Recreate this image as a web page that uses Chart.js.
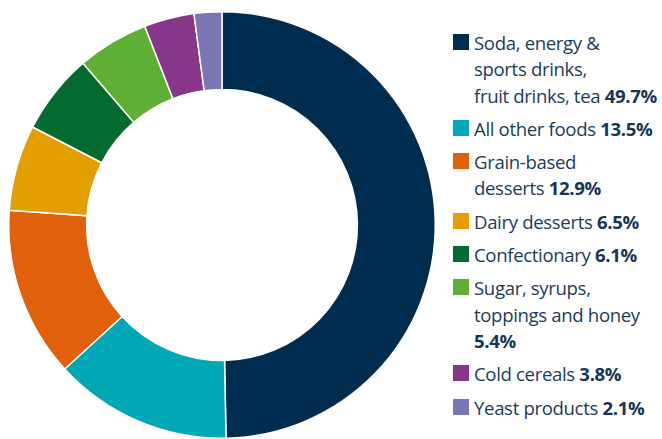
<!DOCTYPE html>
<html>
<head>
<meta charset="utf-8">
<script src="https://cdn.jsdelivr.net/npm/chart.js@4"></script>
<style>
    html, body { margin: 0; padding: 0; background: #fff; }
    #wrap { position: relative; width: 662px; height: 439px; overflow: hidden; }
    #chart { position: absolute; left: 0; top: 0; }
    #legend {
        position: absolute; left: 453px; top: 30px;
        font-family: "Open Sans", sans-serif; font-size: 18.6px; color: #1d3b5c;
        line-height: 26.3px; letter-spacing: -0.35px;
    }
    .item { position: relative; padding-left: 21px; margin-bottom: 7px; }
    .box { position: absolute; left: 0; top: 4px; width: 16px; height: 16px; }
    .item b { font-weight: 700; color: #173556; }
</style>
</head>
<body>
<div id="wrap">
    <canvas id="chart" width="444" height="439"></canvas>
    <div id="legend"></div>
</div>
<script>
// données
const labels = [
    ["Soda, energy &", "sports drinks,", "fruit drinks, tea"],
    ["All other foods"],
    ["Grain-based", "desserts"],
    ["Dairy desserts"],
    ["Confectionary"],
    ["Sugar, syrups,", "toppings and honey", ""],
    ["Cold cereals"],
    ["Yeast products"]
];
const values = [49.7, 13.5, 12.9, 6.5, 6.1, 5.4, 3.8, 2.1];
const colors = ["#002d4f", "#00a8b5", "#e0600c", "#e39e00", "#036b2e", "#5eaf34", "#873789", "#7a75b4"];

// ─── Doughnut ───────────────────────────────────────────
new Chart(document.getElementById("chart"), {
    type: "doughnut",
    data: {
        labels: labels.map(l => l.join(" ")),
        datasets: [{
            data: values,
            backgroundColor: colors,
            borderColor: "#ffffff",
            borderWidth: 1.5,
        }]
    },
    options: {
        responsive: false,
        animation: false,
        cutout: "63.5%",
        layout: { padding: { top: 11, bottom: 0, left: 7, right: 7 } },
        plugins: { legend: { display: false }, tooltip: { enabled: false } }
    }
});

// ─── Légende HTML ───────────────────────────────────────
const legend = document.getElementById("legend");
labels.forEach((lines, i) => {
    const item = document.createElement("div");
    item.className = "item";
    const box = document.createElement("span");
    box.className = "box";
    box.style.background = colors[i];
    item.appendChild(box);
    lines.forEach((line, j) => {
        if (j > 0) item.appendChild(document.createElement("br"));
        item.appendChild(document.createTextNode(line));
    });
    const pct = document.createElement("b");
    pct.textContent = (lines[lines.length - 1] === "" ? "" : " ") + values[i].toFixed(1) + "%";
    item.appendChild(pct);
    legend.appendChild(item);
});
</script>
</body>
</html>
